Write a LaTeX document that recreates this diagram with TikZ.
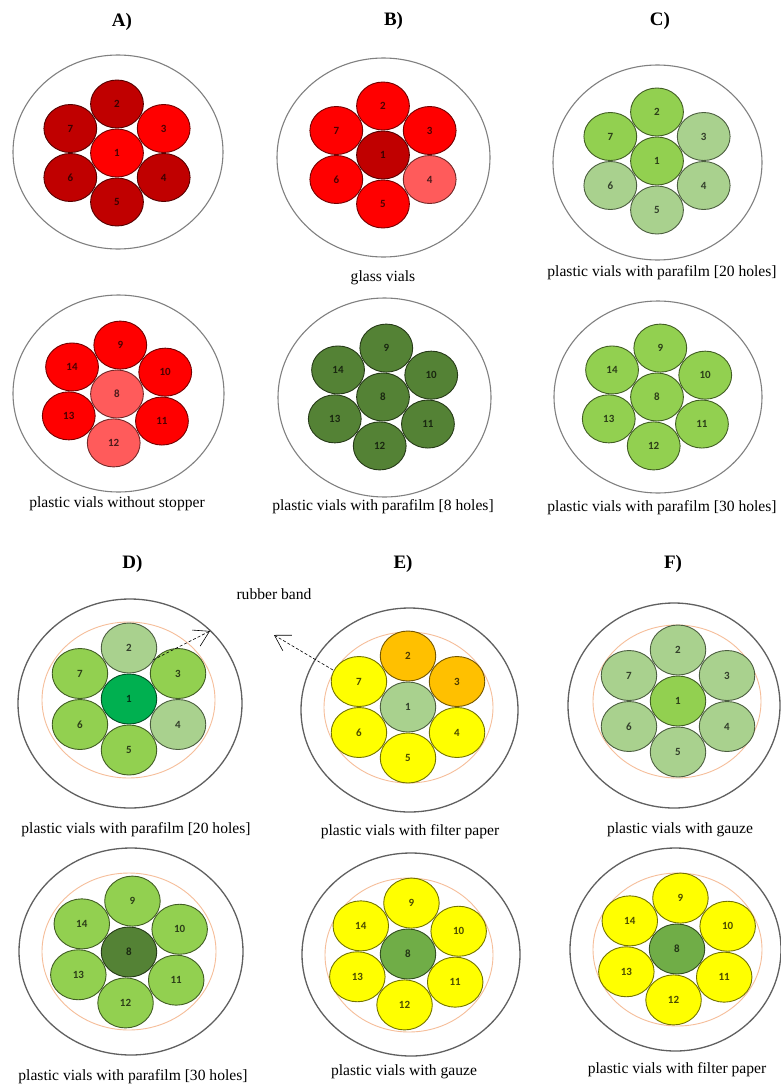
\documentclass[tikz,border=0pt]{standalone}
\usepackage{fontspec}
\setmainfont{Liberation Serif}
\newfontfamily\numfont{Carlito}
\usetikzlibrary{arrows.meta}
\definecolor{rdark}{HTML}{C00000}
\definecolor{rbright}{HTML}{FF0000}
\definecolor{rlight}{HTML}{FF5B5B}
\definecolor{gdark}{HTML}{548235}
\definecolor{gmed}{HTML}{92D050}
\definecolor{gmedb}{HTML}{70AD47}
\definecolor{glight}{HTML}{A9D18E}
\definecolor{gemer}{HTML}{00B050}
\definecolor{yel}{HTML}{FFFF00}
\definecolor{orng}{HTML}{FFC000}
\definecolor{dishc}{HTML}{808080}
\definecolor{dishd}{HTML}{606060}
\definecolor{bandc}{HTML}{F6BE9A}
\tikzset{
  dish/.style={draw=dishc, line width=1.1pt},
  dishb/.style={draw=dishd, line width=1.3pt},
  bandring/.style={draw=bandc, line width=0.9pt},
  vnum/.style={font=\numfont\bfseries\fontsize{11}{13}\selectfont, inner sep=0pt},
  captxt/.style={font=\fontsize{15.6}{18}\selectfont, anchor=base, inner sep=0pt},
  ttl/.style={font=\bfseries\fontsize{19}{22}\selectfont, anchor=base, inner sep=0pt},
  barrow/.style={draw=black, line width=0.6pt, dash pattern=on 3pt off 2pt,
    -{Straight Barb[length=15pt,width=18pt,line width=0.6pt]}}
}
\def\vs{1.1}\def\vr{24}
\newcommand\vial[5]{%
  \begin{scope}[shift={(#1)},xscale=\vs]
    \path[fill=#4, draw=#4!45!black, line width=0.9pt] (#2:#3) circle[radius=\vr];
    \node[vnum, text=#4!30!black] (#1v#5) at (#2:#3) {#5};
  \end{scope}}
\begin{document}
\begin{tikzpicture}[x=1pt,y=-1pt]
\path[fill=white] (0,0) rectangle (781,1084);
\useasboundingbox (0,0) rectangle (781,1084);

% ---------- titles ----------
\node[ttl] (tA) at (122,26) {A)};
\node[ttl] (tB) at (393.5,25) {B)};
\node[ttl] (tC) at (660,25) {C)};
\node[ttl] (tD) at (132.5,568) {D)};
\node[ttl] (tE) at (403,568) {E)};
\node[ttl] (tF) at (673,568) {F)};

% ---------- row 1 ----------
\def\vs{1.1}\def\vr{24}
\draw[dish] (118,152) ellipse[x radius=105, y radius=97];
\coordinate (cA) at (117,153);
\foreach \n/\a/\d/\c in {1/0/0/rbright, 2/-90/49/rdark, 3/-30/49/rbright, 4/30/49/rdark, 5/90/49/rdark, 6/150/49/rdark, 7/210/49/rdark} {\vial{cA}{\a}{\d}{\c}{\n}}

\draw[dish] (383.5,157.5) ellipse[x radius=106.5, y radius=99.5];
\coordinate (cB) at (383,155);
\foreach \n/\a/\d/\c in {1/0/0/rdark, 2/-90/49/rbright, 3/-30/49/rbright, 4/30/49/rlight, 5/90/49/rbright, 6/150/49/rbright, 7/210/49/rbright} {\vial{cB}{\a}{\d}{\c}{\n}}
\node[captxt] (lB) at (383,281) {glass vials};

\draw[dish] (657.5,162.5) ellipse[x radius=104.5, y radius=97.5];
\coordinate (cC) at (657,161);
\foreach \n/\a/\d/\c in {1/0/0/gmed, 2/-90/49/gmed, 3/-30/49/glight, 4/30/49/glight, 5/90/49/glight, 6/150/49/glight, 7/210/49/gmed} {\vial{cC}{\a}{\d}{\c}{\n}}
\node[captxt] (lC) at (662,276) {plastic vials with parafilm [20 holes]};

% ---------- row 2 ----------
\draw[dish] (118.5,393.5) ellipse[x radius=105.5, y radius=98.5];
\coordinate (cA2) at (117,394);
\foreach \n/\a/\d/\c in {8/0/0/rlight, 9/-86.5/49/rbright, 10/-26.5/49/rbright, 11/33.5/49/rbright, 12/93.5/49/rlight, 13/153.5/49/rbright, 14/213.5/49/rbright} {\vial{cA2}{\a}{\d}{\c}{\n}}
\node[captxt] (lA2) at (117,507) {plastic vials without stopper};

\draw[dish] (384.5,397.5) ellipse[x radius=106.5, y radius=99.5];
\coordinate (cB2) at (383,397);
\foreach \n/\a/\d/\c in {8/0/0/gdark, 9/-86.5/49/gdark, 10/-26.5/49/gdark, 11/33.5/49/gdark, 12/93.5/49/gdark, 13/153.5/49/gdark, 14/213.5/49/gdark} {\vial{cB2}{\a}{\d}{\c}{\n}}
\node[captxt] (lB2) at (383,510) {plastic vials with parafilm [8 holes]};

\draw[dish] (658,397) ellipse[x radius=104, y radius=96];
\coordinate (cC2) at (657,397);
\foreach \n/\a/\d/\c in {8/0/0/gmed, 9/-86.5/49/gmed, 10/-26.5/49/gmed, 11/33.5/49/gmed, 12/93.5/49/gmed, 13/153.5/49/gmed, 14/213.5/49/gmed} {\vial{cC2}{\a}{\d}{\c}{\n}}
\node[captxt] (lC2) at (662,511) {plastic vials with parafilm [30 holes]};

% ---------- row 3 ----------
\def\vs{1.11}\def\vr{25}
\draw[dishb] (130,703.5) ellipse[x radius=112, y radius=104.5];
\draw[bandring] (128.5,700) ellipse[x radius=86.5, y radius=78];
\coordinate (cD) at (129,699);
\foreach \n/\a/\d/\c in {1/0/0/gemer, 2/-90/51/glight, 3/-30/51/gmed, 4/30/51/glight, 5/90/51/gmed, 6/150/51/gmed, 7/210/51/gmed} {\vial{cD}{\a}{\d}{\c}{\n}}
\node[captxt] (lD) at (136,833) {plastic vials with parafilm [20 holes]};

\draw[dishb] (409.5,710) ellipse[x radius=108.5, y radius=102];
\draw[bandring] (408.5,707.5) ellipse[x radius=84.5, y radius=75.5];
\coordinate (cE) at (408,707);
\foreach \n/\a/\d/\c in {1/0/0/glight, 2/-90/51/orng, 3/-30/51/orng, 4/30/51/yel, 5/90/51/yel, 6/150/51/yel, 7/210/51/yel} {\vial{cE}{\a}{\d}{\c}{\n}}
\node[captxt] (lE) at (410,835) {plastic vials with filter paper};

\draw[dishb] (674,705.5) ellipse[x radius=106, y radius=102.5];
\draw[bandring] (677,701.5) ellipse[x radius=84, y radius=76.5];
\coordinate (cF) at (678,701);
\foreach \n/\a/\d/\c in {1/0/0/gmed, 2/-90/51/glight, 3/-30/51/glight, 4/30/51/glight, 5/90/51/glight, 6/150/51/glight, 7/210/51/glight} {\vial{cF}{\a}{\d}{\c}{\n}}
\node[captxt] (lF) at (680,833) {plastic vials with gauze};

% rubber band label and arrows
\node[captxt] (rb) at (274,599) {rubber band};
\coordinate (aD0) at (153,660); \coordinate (aD1) at (210,631);
\coordinate (aE0) at (333,670); \coordinate (aE1) at (274,635);
\draw[barrow] (aD0) -- (aD1);
\draw[barrow] (aE0) -- (aE1);

% ---------- row 4 ----------
\draw[dishb] (131,951.5) ellipse[x radius=112, y radius=103.5];
\draw[bandring] (129,951.5) ellipse[x radius=87, y radius=78.5];
\coordinate (cD2) at (129,952);
\foreach \n/\a/\d/\c in {8/0/0/gdark, 9/-86.5/51/gmed, 10/-26.5/51/gmed, 11/33.5/51/gmed, 12/93.5/51/gmed, 13/153.5/51/gmed, 14/213.5/51/gmed} {\vial{cD2}{\a}{\d}{\c}{\n}}
\node[captxt] (lD2) at (133,1080) {plastic vials with parafilm [30 holes]};

\draw[dishb] (411,954.5) ellipse[x radius=109, y radius=101.5];
\draw[bandring] (409,955) ellipse[x radius=84, y radius=77];
\coordinate (cE2) at (408,954);
\foreach \n/\a/\d/\c in {8/0/0/gmedb, 9/-86.5/51/yel, 10/-26.5/51/yel, 11/33.5/51/yel, 12/93.5/51/yel, 13/153.5/51/yel, 14/213.5/51/yel} {\vial{cE2}{\a}{\d}{\c}{\n}}
\node[captxt] (lE2) at (404,1075) {plastic vials with gauze};

\draw[dishb] (675.5,949.5) ellipse[x radius=105.5, y radius=101.5];
\draw[bandring] (677.5,949.5) ellipse[x radius=84.5, y radius=76.5];
\coordinate (cF2) at (677,949);
\foreach \n/\a/\d/\c in {8/0/0/gmedb, 9/-86.5/51/yel, 10/-26.5/51/yel, 11/33.5/51/yel, 12/93.5/51/yel, 13/153.5/51/yel, 14/213.5/51/yel} {\vial{cF2}{\a}{\d}{\c}{\n}}
\node[captxt] (lF2) at (677,1073) {plastic vials with filter paper};
\end{tikzpicture}
\end{document}
